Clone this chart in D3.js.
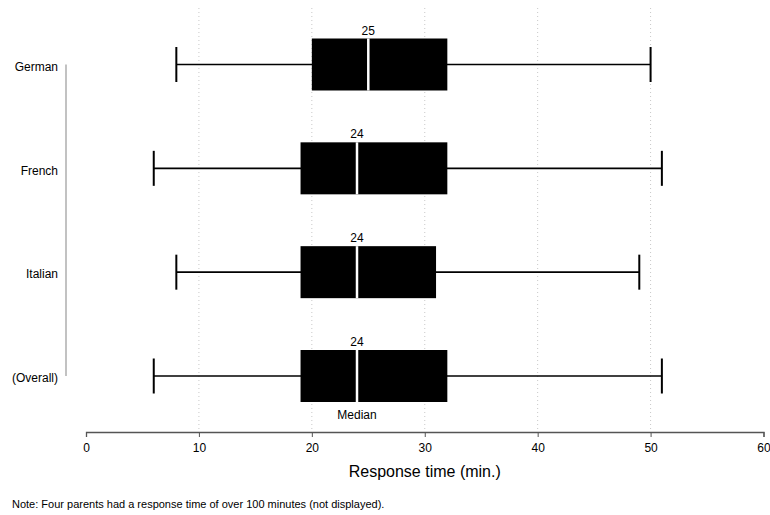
<!DOCTYPE html>
<html><head><meta charset="utf-8">
<script src="https://cdn.jsdelivr.net/npm/d3@7"></script>
<style>body{margin:0;background:#fff;}text{font-family:"Liberation Sans",Arial,sans-serif;}</style>
</head><body>
<svg id="c" width="770" height="515"></svg>
<script>
const categories = ["German","French","Italian","(Overall)"];
const mins = [8,6,8,6];
const q1s = [20,19,19,19];
const medians = [25,24,24,24];
const q3s = [32,32,31,32];
const maxs = [50,51,49,51];
const xTicks = [0,10,20,30,40,50,60];
const xTitle = "Response time (min.)";
const note = "Note: Four parents had a response time of over 100 minutes (not displayed).";
const medianLabel = "Median";

const svg = d3.select("#c");
const x = d3.scaleLinear().domain([0,60]).range([86,763.5]);
const y = d3.scalePoint().domain(categories).range([64.5,376]);
const axisY = 432;
const boxH = 52, capH = 35;

// gridlines
svg.append("g").selectAll("line").data(xTicks.filter(t=>t>0&&t<60)).join("line")
  .attr("x1",d=>x(d)).attr("x2",d=>x(d)).attr("y1",8).attr("y2",axisY)
  .attr("stroke","#c8c8c8").attr("stroke-width",1).attr("stroke-dasharray","1,3");

// axis
const ax = svg.append("g").attr("transform",`translate(0,${axisY})`)
  .call(d3.axisBottom(x).tickValues(xTicks).tickSize(5).tickPadding(6));
ax.select(".domain").attr("stroke","#555").attr("stroke-width",1.3);
ax.selectAll(".tick line").attr("stroke","#555");
ax.selectAll("text").attr("font-size",12).attr("fill","#000").attr("font-family","Liberation Sans, Arial, sans-serif");

// left category line
svg.append("line").attr("x1",66).attr("x2",66).attr("y1",y(categories[0])).attr("y2",y(categories[3]))
  .attr("stroke","#999").attr("stroke-width",1.2);

// category labels
svg.append("g").selectAll("text").data(categories).join("text")
  .attr("x",58).attr("y",d=>y(d)+2).attr("dy","0.35em").attr("text-anchor","end")
  .attr("font-size",12).text(d=>d);

const rows = categories.map((c,i)=>({c,min:mins[i],q1:q1s[i],med:medians[i],q3:q3s[i],max:maxs[i]}));
const g = svg.append("g").selectAll("g").data(rows).join("g");
// whisker line
g.append("line").attr("x1",d=>x(d.min)).attr("x2",d=>x(d.max)).attr("y1",d=>y(d.c)).attr("y2",d=>y(d.c))
  .attr("stroke","#000").attr("stroke-width",1.6);
// caps
g.append("line").attr("x1",d=>x(d.min)).attr("x2",d=>x(d.min)).attr("y1",d=>y(d.c)-capH/2).attr("y2",d=>y(d.c)+capH/2)
  .attr("stroke","#000").attr("stroke-width",2);
g.append("line").attr("x1",d=>x(d.max)).attr("x2",d=>x(d.max)).attr("y1",d=>y(d.c)-capH/2).attr("y2",d=>y(d.c)+capH/2)
  .attr("stroke","#000").attr("stroke-width",2);
// box
g.append("rect").attr("x",d=>x(d.q1)).attr("width",d=>x(d.q3)-x(d.q1)).attr("y",d=>y(d.c)-boxH/2).attr("height",boxH)
  .attr("fill","#000");
// median
g.append("line").attr("x1",d=>x(d.med)).attr("x2",d=>x(d.med)).attr("y1",d=>y(d.c)-boxH/2).attr("y2",d=>y(d.c)+boxH/2)
  .attr("stroke","#fff").attr("stroke-width",2.5);
// value labels
g.append("text").attr("x",d=>x(d.med)).attr("y",d=>y(d.c)-boxH/2-4).attr("text-anchor","middle")
  .attr("font-size",12).text(d=>d.med);

// median label under overall
const last = rows[rows.length-1];
svg.append("text").attr("x",x(last.med)).attr("y",y(last.c)+boxH/2+17).attr("text-anchor","middle")
  .attr("font-size",12).text(medianLabel);

// x title
svg.append("text").attr("x",x(30)).attr("y",477).attr("text-anchor","middle").attr("font-size",16).text(xTitle);
// note
svg.append("text").attr("x",12).attr("y",508).attr("font-size",11).text(note);
</script>
</body></html>
